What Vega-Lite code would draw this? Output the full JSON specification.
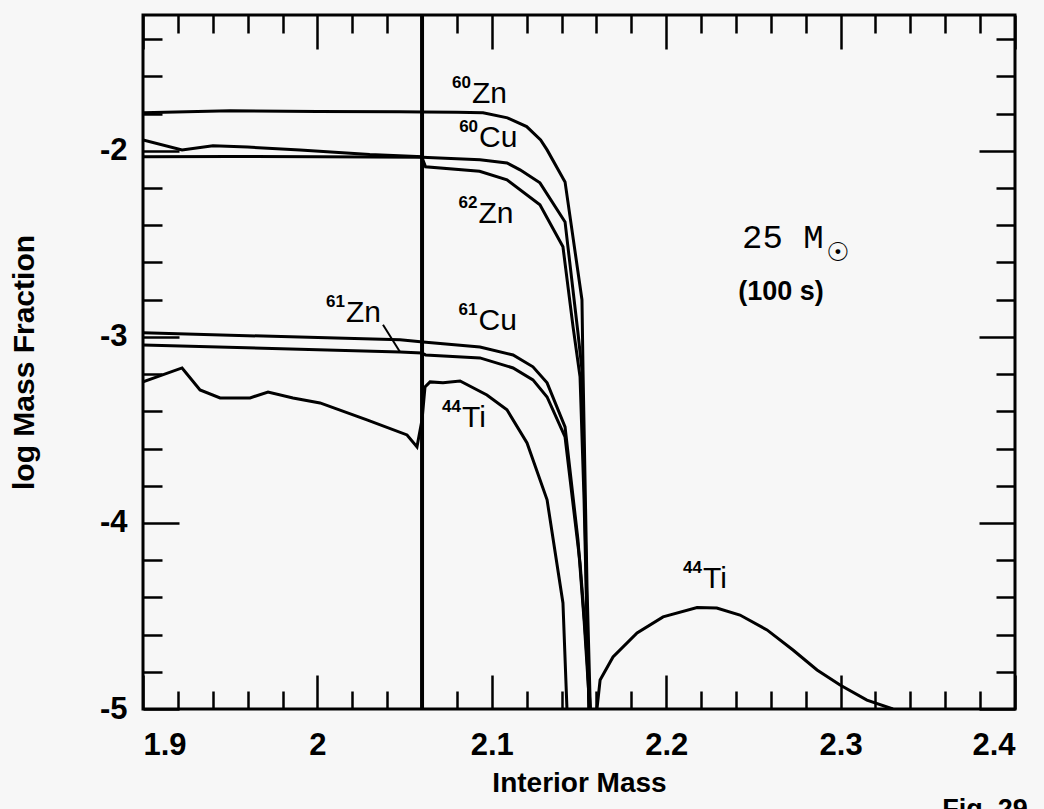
{
  "$schema": "https://vega.github.io/schema/vega-lite/v6.json",
  "width": 872,
  "height": 694,
  "autosize": {"type": "none"},
  "padding": {"left": 143, "top": 15, "right": 29, "bottom": 100},
  "background": "#f7f7f7",
  "config": {
    "view": {"stroke": "black", "strokeWidth": 3},
    "axis": {
      "grid": false,
      "domain": false,
      "ticks": true,
      "tickColor": "black",
      "tickWidth": 2.5,
      "labelFont": "Liberation Sans",
      "labelFontWeight": "bold",
      "labelFontSize": 31,
      "labelColor": "black",
      "titleFont": "Liberation Sans",
      "titleFontWeight": "bold",
      "titleFontSize": 28,
      "titleColor": "black"
    }
  },
  "datasets": {
    "curves": [
      {"s": "60Zn", "x": 1.9, "y": -1.796},
      {"s": "60Zn", "x": 1.95, "y": -1.785},
      {"s": "60Zn", "x": 2.0, "y": -1.788},
      {"s": "60Zn", "x": 2.047, "y": -1.79},
      {"s": "60Zn", "x": 2.061, "y": -1.792},
      {"s": "60Zn", "x": 2.08, "y": -1.793},
      {"s": "60Zn", "x": 2.095, "y": -1.796},
      {"s": "60Zn", "x": 2.109, "y": -1.823},
      {"s": "60Zn", "x": 2.12, "y": -1.87},
      {"s": "60Zn", "x": 2.128, "y": -1.941},
      {"s": "60Zn", "x": 2.1317, "y": -1.995},
      {"s": "60Zn", "x": 2.142, "y": -2.167},
      {"s": "60Zn", "x": 2.1517, "y": -2.8},
      {"s": "60Zn", "x": 2.1523, "y": -3.177},
      {"s": "60Zn", "x": 2.1546, "y": -4.344},
      {"s": "60Zn", "x": 2.1565, "y": -5.0},
      {"s": "60Cu", "x": 1.9, "y": -2.032},
      {"s": "60Cu", "x": 1.95, "y": -2.03},
      {"s": "60Cu", "x": 2.0, "y": -2.032},
      {"s": "60Cu", "x": 2.06, "y": -2.035},
      {"s": "60Cu", "x": 2.0932, "y": -2.048},
      {"s": "60Cu", "x": 2.1087, "y": -2.065},
      {"s": "60Cu", "x": 2.1162, "y": -2.102},
      {"s": "60Cu", "x": 2.1276, "y": -2.172},
      {"s": "60Cu", "x": 2.142, "y": -2.382},
      {"s": "60Cu", "x": 2.1494, "y": -2.978},
      {"s": "60Cu", "x": 2.1517, "y": -3.177},
      {"s": "60Cu", "x": 2.1523, "y": -3.446},
      {"s": "60Cu", "x": 2.1557, "y": -5.0},
      {"s": "62Zn", "x": 1.9, "y": -1.941},
      {"s": "62Zn", "x": 1.9224, "y": -1.995},
      {"s": "62Zn", "x": 1.9401, "y": -1.973},
      {"s": "62Zn", "x": 1.96, "y": -1.98},
      {"s": "62Zn", "x": 1.99, "y": -1.995},
      {"s": "62Zn", "x": 2.03, "y": -2.02},
      {"s": "62Zn", "x": 2.0598, "y": -2.032},
      {"s": "62Zn", "x": 2.062, "y": -2.086},
      {"s": "62Zn", "x": 2.093, "y": -2.11},
      {"s": "62Zn", "x": 2.1087, "y": -2.156},
      {"s": "62Zn", "x": 2.1276, "y": -2.29},
      {"s": "62Zn", "x": 2.1408, "y": -2.516},
      {"s": "62Zn", "x": 2.1466, "y": -2.946},
      {"s": "62Zn", "x": 2.1506, "y": -3.215},
      {"s": "62Zn", "x": 2.1529, "y": -3.876},
      {"s": "62Zn", "x": 2.1557, "y": -5.0},
      {"s": "61Cu", "x": 1.9, "y": -2.978},
      {"s": "61Cu", "x": 2.0474, "y": -3.016},
      {"s": "61Cu", "x": 2.0606, "y": -3.027},
      {"s": "61Cu", "x": 2.0932, "y": -3.054},
      {"s": "61Cu", "x": 2.1122, "y": -3.097},
      {"s": "61Cu", "x": 2.1236, "y": -3.161},
      {"s": "61Cu", "x": 2.1317, "y": -3.247},
      {"s": "61Cu", "x": 2.142, "y": -3.484},
      {"s": "61Cu", "x": 2.1494, "y": -4.091},
      {"s": "61Cu", "x": 2.1529, "y": -4.52},
      {"s": "61Cu", "x": 2.1562, "y": -5.0},
      {"s": "61Zn", "x": 1.9, "y": -3.043},
      {"s": "61Zn", "x": 2.0474, "y": -3.081},
      {"s": "61Zn", "x": 2.0598, "y": -3.086},
      {"s": "61Zn", "x": 2.062, "y": -3.097},
      {"s": "61Zn", "x": 2.0932, "y": -3.113},
      {"s": "61Zn", "x": 2.1122, "y": -3.167},
      {"s": "61Zn", "x": 2.1236, "y": -3.231},
      {"s": "61Zn", "x": 2.1317, "y": -3.323},
      {"s": "61Zn", "x": 2.142, "y": -3.538},
      {"s": "61Zn", "x": 2.1506, "y": -4.215},
      {"s": "61Zn", "x": 2.1534, "y": -4.56},
      {"s": "61Zn", "x": 2.1565, "y": -5.0},
      {"s": "44Ti", "x": 1.9, "y": -3.242},
      {"s": "44Ti", "x": 1.9224, "y": -3.167},
      {"s": "44Ti", "x": 1.9327, "y": -3.285},
      {"s": "44Ti", "x": 1.9442, "y": -3.328},
      {"s": "44Ti", "x": 1.9614, "y": -3.328},
      {"s": "44Ti", "x": 1.9717, "y": -3.296},
      {"s": "44Ti", "x": 1.986, "y": -3.328},
      {"s": "44Ti", "x": 2.0015, "y": -3.355},
      {"s": "44Ti", "x": 2.0284, "y": -3.446},
      {"s": "44Ti", "x": 2.0514, "y": -3.527},
      {"s": "44Ti", "x": 2.0571, "y": -3.591},
      {"s": "44Ti", "x": 2.06, "y": -3.446},
      {"s": "44Ti", "x": 2.0617, "y": -3.269},
      {"s": "44Ti", "x": 2.0646, "y": -3.242},
      {"s": "44Ti", "x": 2.072, "y": -3.247},
      {"s": "44Ti", "x": 2.0818, "y": -3.237},
      {"s": "44Ti", "x": 2.0972, "y": -3.312},
      {"s": "44Ti", "x": 2.1087, "y": -3.392},
      {"s": "44Ti", "x": 2.1202, "y": -3.57},
      {"s": "44Ti", "x": 2.1317, "y": -3.876},
      {"s": "44Ti", "x": 2.1408, "y": -4.43},
      {"s": "44Ti", "x": 2.1431, "y": -5.0},
      {"s": "44Ti_outer", "x": 2.1603, "y": -5.0},
      {"s": "44Ti_outer", "x": 2.1621, "y": -4.844},
      {"s": "44Ti_outer", "x": 2.1695, "y": -4.72},
      {"s": "44Ti_outer", "x": 2.1833, "y": -4.591},
      {"s": "44Ti_outer", "x": 2.1982, "y": -4.505},
      {"s": "44Ti_outer", "x": 2.2177, "y": -4.455},
      {"s": "44Ti_outer", "x": 2.229, "y": -4.457},
      {"s": "44Ti_outer", "x": 2.2423, "y": -4.495},
      {"s": "44Ti_outer", "x": 2.2578, "y": -4.575},
      {"s": "44Ti_outer", "x": 2.2727, "y": -4.683},
      {"s": "44Ti_outer", "x": 2.2865, "y": -4.79},
      {"s": "44Ti_outer", "x": 2.2997, "y": -4.871},
      {"s": "44Ti_outer", "x": 2.3151, "y": -4.952},
      {"s": "44Ti_outer", "x": 2.33, "y": -5.0}
    ],
    "labels": [
      {"x": 2.0886, "y": -1.742, "mass": "60", "el": "Zn"},
      {"x": 2.0927, "y": -1.978, "mass": "60", "el": "Cu"},
      {"x": 2.0924, "y": -2.387, "mass": "62", "el": "Zn"},
      {"x": 2.0924, "y": -2.962, "mass": "61", "el": "Cu"},
      {"x": 2.0164, "y": -2.919, "mass": "61", "el": "Zn"},
      {"x": 2.0829, "y": -3.484, "mass": "44", "el": "Ti"},
      {"x": 2.2211, "y": -4.349, "mass": "44", "el": "Ti"}
    ],
    "leader": [
      {"x": 2.0376, "y": -2.935, "x2": 2.0474, "y2": -3.081}
    ],
    "cut": [
      {"x": 2.06}
    ],
    "annot": [
      {"x": 2.2435, "y": -2.522, "t": "25 M", "k": "m"},
      {"x": 2.2985, "y": -2.55, "t": "☉", "k": "sun"},
      {"x": 2.2658, "y": -2.801, "t": "(100 s)", "k": "s"},
      {"x": 2.3828, "y": -5.586, "t": "Fig. 29", "k": "fig"}
    ]
  },
  "layer": [
    {
      "data": {"name": "curves"},
      "mark": {"type": "line", "color": "black", "strokeWidth": 3, "clip": true},
      "encoding": {
        "x": {
          "field": "x", "type": "quantitative",
          "scale": {"domain": [1.9, 2.4], "nice": false, "zero": false},
          "axis": {"orient": "bottom", "values": [1.9, 2, 2.1, 2.2, 2.3, 2.4], "tickSize": -34, "labelPadding": 55, "labelExpr": "'' + datum.value", "title": "Interior Mass", "titlePadding": 9}
        },
        "y": {
          "field": "y", "type": "quantitative",
          "scale": {"domain": [-5, -1.27], "nice": false, "zero": false},
          "axis": {"orient": "left", "values": [-5, -4, -3, -2], "tickSize": -36, "labelPadding": 52, "labelExpr": "'-' + abs(datum.value)", "title": "log Mass Fraction", "titleFontSize": 30, "titlePadding": 60}
        },
        "detail": {"field": "s", "type": "nominal"}
      }
    },
    {
      "data": {"name": "labels"},
      "mark": {"type": "text", "align": "left", "baseline": "alphabetic", "font": "Liberation Sans", "fontSize": 30, "color": "black"},
      "encoding": {
        "x": {
          "field": "x", "type": "quantitative",
          "scale": {"domain": [1.9, 2.4], "nice": false, "zero": false},
          "axis": {"orient": "bottom", "values": [1.92, 1.94, 1.96, 1.98, 2.02, 2.04, 2.06, 2.08, 2.12, 2.14, 2.16, 2.18, 2.22, 2.24, 2.26, 2.28, 2.32, 2.34, 2.36, 2.38], "tickSize": -18, "labels": false, "title": null}
        },
        "y": {
          "field": "y", "type": "quantitative",
          "scale": {"domain": [-5, -1.27], "nice": false, "zero": false},
          "axis": {"orient": "left", "values": [-4.8, -4.6, -4.4, -4.2, -3.8, -3.6, -3.4, -3.2, -2.8, -2.6, -2.4, -2.2, -1.8, -1.6, -1.4], "tickSize": -19, "labels": false, "title": null}
        },
        "text": {"field": "el"}
      }
    },
    {
      "data": {"name": "labels"},
      "mark": {"type": "text", "align": "right", "baseline": "alphabetic", "dx": -1, "dy": -15, "font": "Liberation Sans", "fontWeight": "bold", "fontSize": 17, "color": "black"},
      "encoding": {
        "x": {
          "field": "x", "type": "quantitative",
          "scale": {"domain": [1.9, 2.4], "nice": false, "zero": false},
          "axis": {"orient": "top", "values": [1.9, 2, 2.1, 2.2, 2.3, 2.4], "tickSize": -34, "labels": false, "title": null}
        },
        "y": {
          "field": "y", "type": "quantitative",
          "scale": {"domain": [-5, -1.27], "nice": false, "zero": false},
          "axis": {"orient": "right", "values": [-5, -4, -3, -2], "tickSize": -36, "labels": false, "title": null}
        },
        "text": {"field": "mass"}
      }
    },
    {
      "data": {"name": "leader"},
      "mark": {"type": "rule", "color": "black", "strokeWidth": 2},
      "encoding": {
        "x": {
          "field": "x", "type": "quantitative",
          "scale": {"domain": [1.9, 2.4], "nice": false, "zero": false},
          "axis": {"orient": "top", "values": [1.92, 1.94, 1.96, 1.98, 2.02, 2.04, 2.06, 2.08, 2.12, 2.14, 2.16, 2.18, 2.22, 2.24, 2.26, 2.28, 2.32, 2.34, 2.36, 2.38], "tickSize": -18, "labels": false, "title": null}
        },
        "x2": {"field": "x2"},
        "y": {
          "field": "y", "type": "quantitative",
          "scale": {"domain": [-5, -1.27], "nice": false, "zero": false},
          "axis": {"orient": "right", "values": [-4.8, -4.6, -4.4, -4.2, -3.8, -3.6, -3.4, -3.2, -2.8, -2.6, -2.4, -2.2, -1.8, -1.6, -1.4], "tickSize": -19, "labels": false, "title": null}
        },
        "y2": {"field": "y2"}
      }
    },
    {
      "data": {"name": "cut"},
      "mark": {"type": "rule", "color": "black", "strokeWidth": 4},
      "encoding": {
        "x": {"field": "x", "type": "quantitative", "scale": {"domain": [1.9, 2.4], "nice": false, "zero": false}, "axis": null}
      }
    },
    {
      "data": {"name": "annot"},
      "transform": [{"filter": "datum.k == 'm'"}],
      "mark": {"type": "text", "align": "left", "baseline": "alphabetic", "font": "Liberation Mono", "fontSize": 34, "color": "black"},
      "encoding": {
        "x": {"field": "x", "type": "quantitative", "scale": {"domain": [1.9, 2.4], "nice": false, "zero": false}, "axis": null},
        "y": {"field": "y", "type": "quantitative", "scale": {"domain": [-5, -1.27], "nice": false, "zero": false}, "axis": null},
        "text": {"field": "t"}
      }
    },
    {
      "data": {"name": "annot"},
      "transform": [{"filter": "datum.k == 'sun'"}],
      "mark": {"type": "text", "align": "center", "baseline": "middle", "font": "DejaVu Sans", "fontSize": 26, "fontWeight": "bold", "color": "black"},
      "encoding": {
        "x": {"field": "x", "type": "quantitative", "scale": {"domain": [1.9, 2.4], "nice": false, "zero": false}, "axis": null},
        "y": {"field": "y", "type": "quantitative", "scale": {"domain": [-5, -1.27], "nice": false, "zero": false}, "axis": null},
        "text": {"field": "t"}
      }
    },
    {
      "data": {"name": "annot"},
      "transform": [{"filter": "datum.k == 's' || datum.k == 'fig'"}],
      "mark": {"type": "text", "align": "center", "baseline": "alphabetic", "font": "Liberation Sans", "fontWeight": "bold", "fontSize": 27, "color": "black", "clip": false},
      "encoding": {
        "x": {"field": "x", "type": "quantitative", "scale": {"domain": [1.9, 2.4], "nice": false, "zero": false}, "axis": null},
        "y": {"field": "y", "type": "quantitative", "scale": {"domain": [-5, -1.27], "nice": false, "zero": false}, "axis": null},
        "text": {"field": "t"}
      }
    }
  ],
  "resolve": {"scale": {"x": "independent", "y": "independent"}}
}
